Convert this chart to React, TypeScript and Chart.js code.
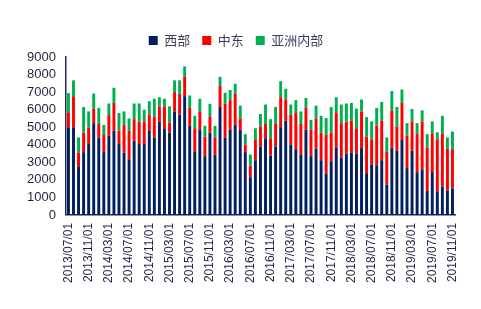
import React, { useEffect, useRef } from "react";
import { Chart, registerables } from "chart.js";

Chart.register(...registerables);

const startYear = 2013;
const startMonth = 7;
const monthCount = 77;

const categories: string[] = [];
for (let i = 0; i < monthCount; i++) {
  const m = startMonth - 1 + i;
  const y = startYear + Math.floor(m / 12);
  const mm = (m % 12) + 1;
  categories.push(`${y}/${mm < 10 ? "0" + mm : mm}/01`);
}

const seriesNames = ["西部", "中东", "亚洲内部"];

const west = [
  5000, 5000, 2730, 3580, 4040, 5230, 4400, 3580, 4500, 4810, 4040, 3560, 3170, 4230, 4040, 4040,
  4790, 4420, 5310, 4900, 4690, 5900, 5710, 6770, 5080, 3630, 4850, 3350, 4690, 3440, 6150, 4400,
  4850, 5130, 4850, 3580, 2150, 3120, 3900, 4370, 3380, 3900, 5000, 5370, 4020, 3750, 3440, 4850,
  3350, 3790, 3120, 2350, 3060, 3850, 3270, 3500, 3560, 3500, 3810, 2380, 2880, 2830, 3120, 1730,
  3830, 3650, 4270, 2670, 3650, 2440, 2600, 1380, 2440, 1350, 1620, 1380, 1520,
];

const middleEast = [
  850, 1770, 830, 1110, 940, 810, 790, 980, 1190, 1570, 770, 1590, 1620, 1230, 1270, 1290,
  920, 1200, 880, 1290, 580, 1100, 1190, 1100, 1020, 1310, 1020, 1110, 930, 960, 1200, 1930,
  1690, 1770, 650, 440, 660, 1150, 1140, 820, 990, 1290, 1710, 1210, 1690, 2060, 1750, 1250,
  1500, 1690, 1570, 2210, 1630, 2000, 1960, 1810, 1820, 1440, 2070, 2080, 1430, 2250, 2250, 1870,
  2110, 1390, 2110, 1850, 1680, 2180, 2730, 2450, 2180, 2960, 3000, 2410, 2230,
];

const intraAsia = [
  1100, 900, 860, 1460, 920, 880, 910, 570, 660, 870, 1000, 750, 710, 890, 1040, 670,
  770, 1000, 520, 430, 920, 670, 770, 590, 710, 710, 750, 620, 710, 680, 520, 630,
  580, 580, 730, 580, 630, 670, 710, 1100, 1090, 960, 910, 610, 580, 730, 710, 570,
  570, 750, 960, 960, 1460, 860, 1060, 1040, 1000, 1120, 700, 1120, 1020, 1020, 1070, 820,
  1120, 1110, 770, 710, 710, 610, 630, 770, 710, 400, 1030, 630, 1000,
];

const colors = ["#002060", "#FF0000", "#00B050"];
const yMax = 9000;
const yStep = 1000;

const CANVAS_W = 481;
const CANVAS_H = 309;
const PLOT_TOP = 57;

export default function App() {
  const ref = useRef<HTMLCanvasElement | null>(null);
  useEffect(() => {
    if (!ref.current) return;
    const tickColor = "#1f2440";
    const chart = new Chart(ref.current, {
      type: "bar",
      data: {
        labels: categories,
        datasets: [west, middleEast, intraAsia].map((d, i) => ({
          label: seriesNames[i],
          data: d,
          backgroundColor: colors[i],
          borderWidth: 0,
          barPercentage: 0.58,
          categoryPercentage: 1,
        })),
      },
      options: {
        animation: false,
        responsive: false,
        maintainAspectRatio: false,
        devicePixelRatio: 1,
        layout: { padding: { top: 3, right: 26, bottom: 18, left: 17 } },
        plugins: {
          tooltip: { enabled: false },
          legend: {
            position: "top",
            labels: {
              boxWidth: 9,
              boxHeight: 9,
              padding: 12,
              color: "#3a3f5c",
              font: { family: "'Noto Sans CJK SC', sans-serif", size: 13 },
            },
          },
        },
        scales: {
          x: {
            stacked: true,
            offset: true,
            grid: { display: false, drawTicks: false },
            border: { display: true, color: "#1f2a5a", width: 1.5 },
            ticks: {
              autoSkip: false,
              maxRotation: 90,
              minRotation: 90,
              padding: 8,
              color: tickColor,
              font: { family: "'Liberation Sans', Arial, sans-serif", size: 12 },
              callback: (_v: any, i: number) => (i % 4 === 0 ? categories[i] : ""),
            },
          },
          y: {
            stacked: true,
            min: 0,
            max: yMax,
            grid: { display: false, drawTicks: false },
            border: { display: true, color: "#1f2a5a", width: 1.5 },
            afterFit: (scale: any) => {
              scale.paddingTop = PLOT_TOP;
            },
            ticks: {
              stepSize: yStep,
              autoSkip: false,
              padding: 10,
              color: tickColor,
              font: { family: "'Liberation Sans', Arial, sans-serif", size: 13 },
              callback: (v: any) => String(v),
            },
          },
        },
      },
    });
    return () => chart.destroy();
  }, []);
  return (
    <div style={{ position: "absolute", left: 0, top: 0, width: CANVAS_W, height: CANVAS_H }}>
      <canvas ref={ref} width={CANVAS_W} height={CANVAS_H} style={{ display: "block" }} />
    </div>
  );
}
